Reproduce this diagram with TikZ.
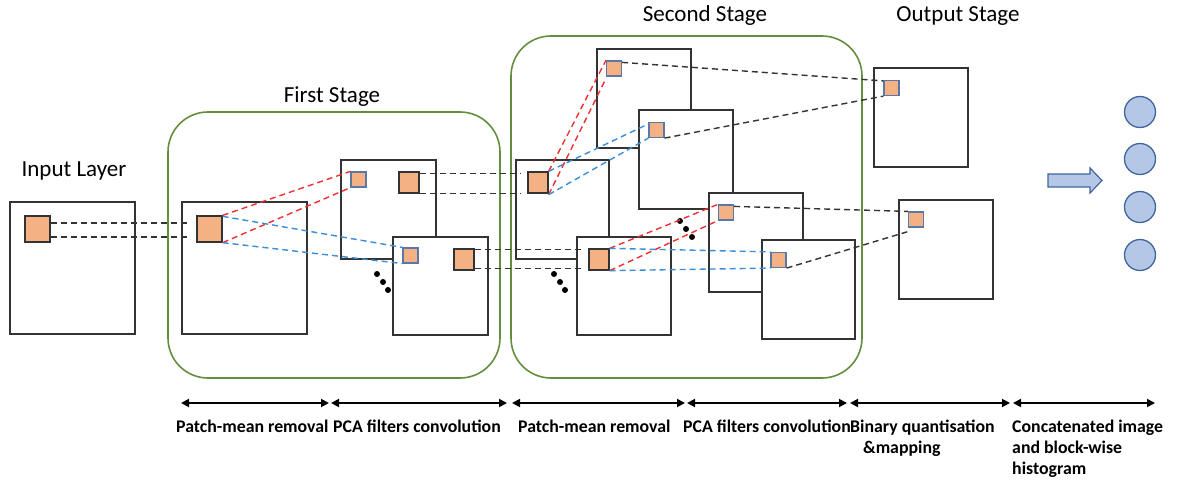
\documentclass[tikz,border=0pt]{standalone}
\usepackage{fontspec}
\setmainfont{Carlito}
\usetikzlibrary{arrows.meta}
\definecolor{patchfill}{HTML}{F4B183}
\definecolor{patchblue}{HTML}{5A77A8}
\definecolor{darkline}{HTML}{333333}
\definecolor{stagegreen}{RGB}{100,142,62}
\definecolor{redd}{HTML}{F03030}
\definecolor{blued}{HTML}{3A8DD8}
\definecolor{circfill}{HTML}{B4C7E7}
\definecolor{circline}{HTML}{41669C}
\tikzset{
  fmap/.style={draw=darkline,line width=1.6pt,fill=white},
  bigpatch/.style={draw=darkline,line width=1.3pt,fill=patchfill,inner sep=0pt,minimum width=20pt,minimum height=21pt},
  smallpatch/.style={draw=patchblue,line width=1.2pt,fill=patchfill,inner sep=0pt,minimum width=15pt,minimum height=15pt},
  stagebox/.style={draw=stagegreen,line width=1.6pt,rounded corners=40pt},
  dl/.style={dash pattern=on 6pt off 4pt,line width=1.4pt},
  blk/.style={dl,draw=darkline},
  rd/.style={dl,draw=redd},
  bl/.style={dl,draw=blued},
  ttl/.style={font=\fontsize{23}{27}\selectfont,inner sep=0pt,anchor=base},
  lbl/.style={font=\fontsize{17.8}{21}\selectfont\bfseries,inner sep=0pt,anchor=base west,align=left},
  span/.style={{Triangle[width=8pt,length=8pt]}-{Triangle[width=8pt,length=8pt]},line width=1.8pt},
  dot/.style={fill=black,circle,inner sep=0pt,minimum size=6pt},
  neuron/.style={circle,draw=circline,fill=circfill,line width=1.3pt,minimum width=30pt,minimum height=31pt,inner sep=0pt}
}
\begin{document}
\begin{tikzpicture}[x=1pt,y=-1pt]
\useasboundingbox (0,0) rectangle (1194,486);
% stage boxes
\draw[stagebox] (168,112) rectangle (500,378);
\draw[stagebox] (511,36) rectangle (862,378);
% titles
\node[ttl] (tin) at (74,177) {Input Layer};
\node[ttl] (t1) at (332,103) {First Stage};
\node[ttl] (t2) at (705,22) {Second Stage};
\node[ttl] (t3) at (958,22) {Output Stage};
% input layer
\draw[fmap] (10,202) rectangle (135,334);
\node[bigpatch,minimum width=25pt,minimum height=26pt] (p0) at (37.5,229) {};
% first stage
\draw[fmap] (182,202) rectangle (307,334);
\node[bigpatch,minimum width=25pt,minimum height=26pt] (p1) at (209.5,229) {};
\draw[fmap] (341,160) rectangle (436,259);
\node[smallpatch] (a1) at (358.5,179.5) {};
\node[bigpatch] (a2) at (409,182.5) {};
\draw[fmap] (393,237) rectangle (488,335);
\node[smallpatch] (b1) at (410.5,255.5) {};
\node[bigpatch] (b2) at (464,259.5) {};
\node[dot] (d1) at (377,274) {};
\node[dot] (d2) at (383,282) {};
\node[dot] (d3) at (388,290) {};
% second stage
\draw[fmap] (516,160) rectangle (609,259);
\node[bigpatch] (c1) at (538,182.5) {};
\draw[fmap] (577,237) rectangle (671,335);
\node[bigpatch] (e1) at (599,259.5) {};
\draw[fmap] (597,49) rectangle (691,148);
\node[smallpatch] (f1) at (614,68.5) {};
\draw[fmap] (639,110) rectangle (733,209);
\node[smallpatch] (g1) at (656.5,130) {};
\draw[fmap] (709,193) rectangle (803,292);
\node[smallpatch] (h1) at (726,212.5) {};
\draw[fmap] (762,240) rectangle (855,339);
\node[smallpatch] (k1) at (778.5,260) {};
\node[dot] (d4) at (554,274) {};
\node[dot] (d5) at (560,282) {};
\node[dot] (d6) at (565,290) {};
\node[dot] (d7) at (680,221) {};
\node[dot] (d8) at (686,229) {};
\node[dot] (d9) at (692,237) {};
% output stage
\draw[fmap] (874,68) rectangle (968,167);
\node[smallpatch] (o1) at (891.5,88) {};
\draw[fmap] (899,200) rectangle (993,299);
\node[smallpatch] (o2) at (916,219.5) {};
% connectors
\draw[blk,shorten >=8pt] ([yshift=6pt]p0.east) -- ([yshift=6pt]p1.west);
\draw[blk,shorten >=8pt] ([yshift=-8pt]p0.east) -- ([yshift=-8pt]p1.west);
\draw[rd] (p1.north east) -- (a1.north west);
\draw[rd] (p1.south east) -- (a1.south west);
\draw[bl] ([yshift=-1pt]p1.north east) -- (b1.north west);
\draw[bl] (p1.south east) -- (b1.south west);
\draw[blk,shorten >=6pt] ([yshift=-2pt]a2.north east) -- ([yshift=-2pt]c1.north west);
\draw[blk,shorten >=6pt] (a2.south east) -- (c1.south west);
\draw[blk,shorten >=6pt] ([yshift=-1pt]b2.north east) -- ([yshift=-1pt]e1.north west);
\draw[blk,shorten >=6pt] ([yshift=2pt]b2.south east) -- ([yshift=2pt]e1.south west);
\draw[rd] (c1.north east) -- (f1.north west);
\draw[rd] ([yshift=-1pt]c1.south east) -- ([yshift=-2pt]f1.south west);
\draw[bl] (c1.north east) -- ([yshift=-2pt]g1.north west);
\draw[bl] ([yshift=-1pt]c1.south east) -- (g1.south west);
\draw[rd] (e1.north east) -- (h1.north west);
\draw[rd] (e1.south east) -- (h1.south west);
\draw[bl] (e1.north east) -- (k1.north west);
\draw[bl] (e1.south east) -- (k1.south west);
\draw[blk] ([yshift=-2pt]f1.north east) -- ([yshift=-1pt]o1.north west);
\draw[blk] (g1.south east) -- (o1.south west);
\draw[blk] ([yshift=-2pt]h1.north east) -- (o2.north west);
\draw[blk] (k1.south east) -- ([yshift=-4pt]o2.south west);
% block arrow
\draw[draw=circline,fill=circfill,line width=1.2pt]
  (1048,174) -- (1090,174) -- (1090,168) -- (1102,180.5) -- (1090,193) -- (1090,187) -- (1048,187) -- cycle;
% neurons
\node[neuron] (n1) at (1140,112) {};
\node[neuron] (n2) at (1140,159) {};
\node[neuron] (n3) at (1140,207) {};
\node[neuron] (n4) at (1140,255) {};
% bottom spans
\coordinate (s0) at (181,403);
\coordinate (s1) at (329,403);
\coordinate (s1b) at (331,403);
\coordinate (s2) at (507,403);
\coordinate (s2b) at (512,403);
\coordinate (s3) at (685,403);
\coordinate (s3b) at (687,403);
\coordinate (s4) at (847,403);
\coordinate (s4b) at (850,403);
\coordinate (s5) at (1010,403);
\coordinate (s5b) at (1013,403);
\coordinate (s6) at (1155,403);
\draw[span] (s0) -- (s1);
\draw[span] (s1b) -- (s2);
\draw[span] (s2b) -- (s3);
\draw[span] (s3b) -- (s4);
\draw[span] (s4b) -- (s5);
\draw[span] (s5b) -- (s6);
\node[lbl] (l1) at (176,432) {Patch-mean removal};
\node[lbl] (l2) at (333,432) {PCA filters convolution};
\node[lbl] (l3) at (518,432) {Patch-mean removal};
\node[lbl] (l4) at (683,432) {PCA filters convolution};
\node[lbl] (l5) at (850,453) {Binary quantisation\\\hspace*{13pt}\&mapping};
\node[lbl] (l6) at (1012,474) {Concatenated image\\and block-wise\\histogram};
\end{tikzpicture}
\end{document}
